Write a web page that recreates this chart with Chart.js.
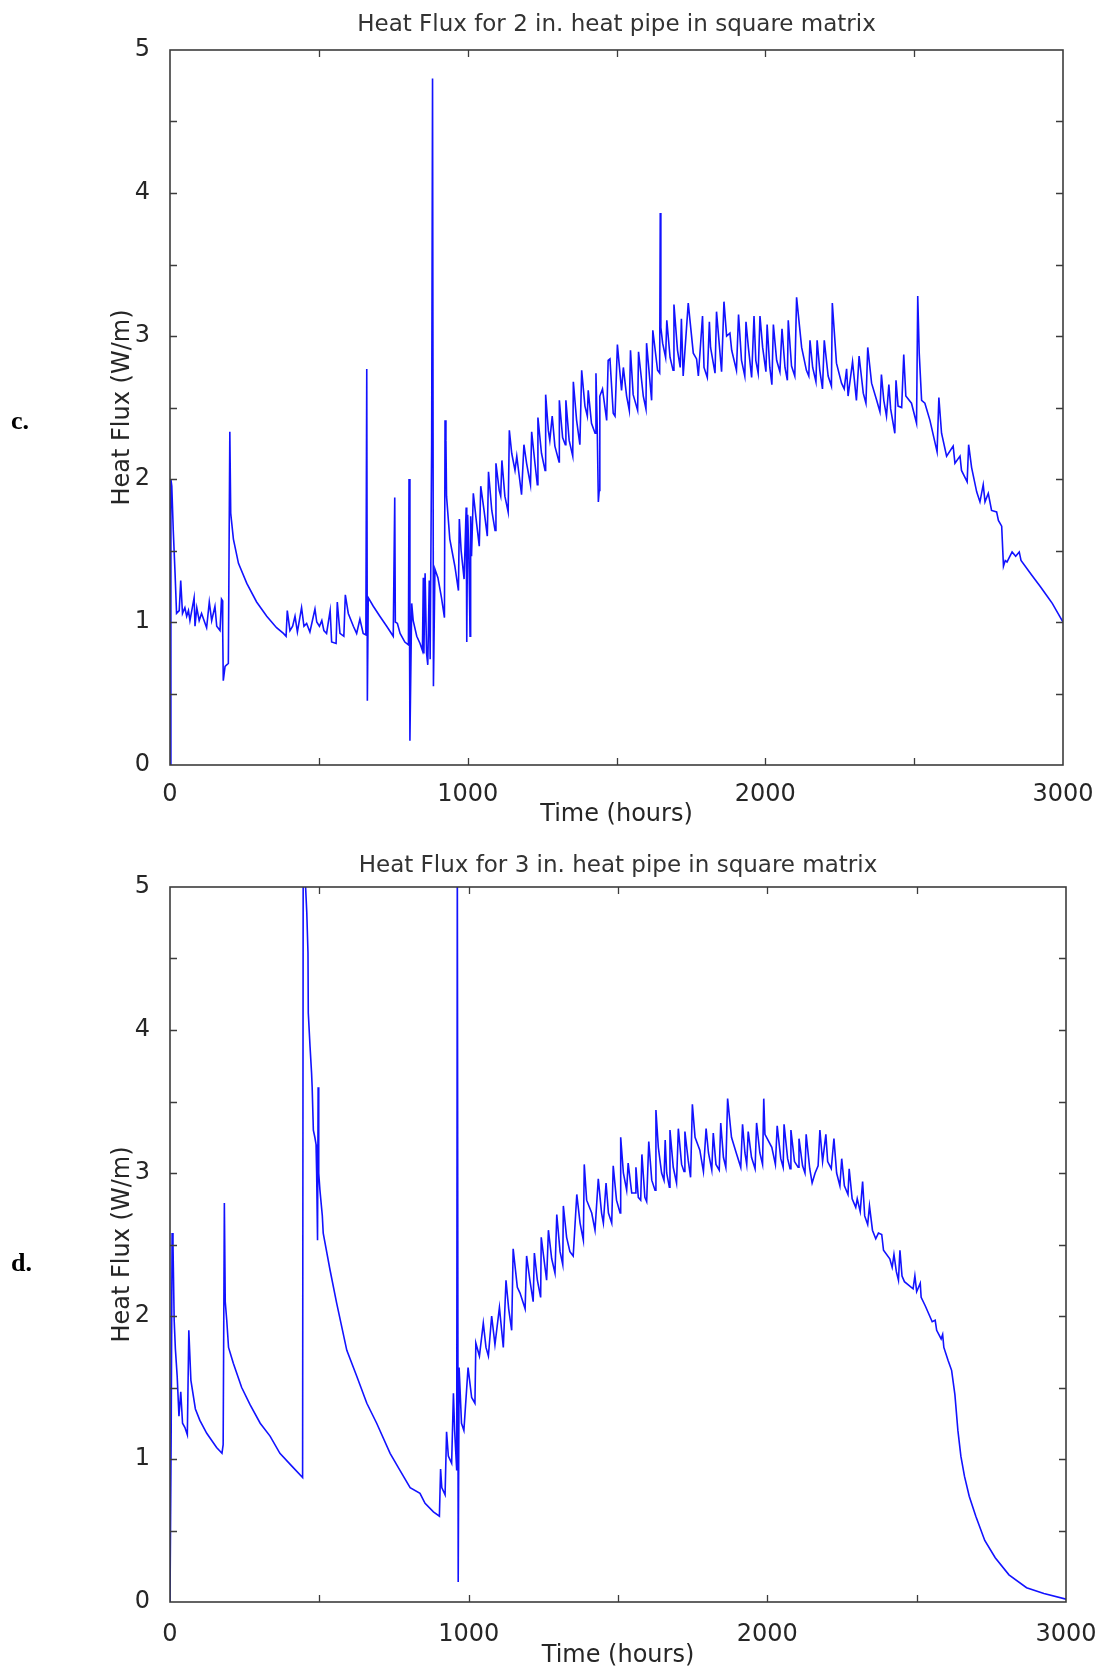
<!DOCTYPE html>
<html>
<head>
<meta charset="utf-8">
<script src="https://cdn.jsdelivr.net/npm/chart.js@4.4.1/dist/chart.umd.min.js"></script>
<style>
  html, body { margin: 0; padding: 0; background: #fff; }
  body { width: 1097px; height: 1671px; position: relative; overflow: hidden; }
  canvas { position: absolute; left: 0; }
  #chartC { top: 0; }
  #chartD { top: 835px; }
  .panel { position: absolute; left: 11px; font: bold 26px "Liberation Serif", serif; color: #000; line-height: 30px; }
</style>
</head>
<body>
<canvas id="chartC" width="1097" height="835"></canvas>
<canvas id="chartD" width="1097" height="836"></canvas>
<div class="panel" style="top:406px">c.</div>
<div class="panel" style="top:1248px">d.</div>
<script>
// panel c: 2 in. heat pipe
const hoursC = [0, 3, 6, 11, 17, 22, 31, 36, 42, 50, 56, 62, 67, 81, 84, 90, 98, 106, 123, 132, 140, 151, 157, 168, 173, 176, 177, 179, 185, 196,
  201, 204, 213, 230, 258, 291, 325, 358, 381, 390, 394, 403, 412, 420, 428, 442, 450, 459, 470, 487, 493, 502, 510, 517, 526, 538, 543, 558, 562, 571,
  584, 589, 599, 616, 627, 638, 649, 658, 661, 663, 666, 683, 705, 728, 750, 755, 757, 764, 773, 789, 801, 803, 806, 812, 817, 829, 840, 848, 851, 853,
  857, 862, 866, 871, 874, 879, 882, 885, 890, 900, 912, 922, 924, 927, 929, 940, 957, 969, 972, 978, 988, 995, 997, 1000, 1004, 1008, 1010, 1013, 1019, 1030,
  1039, 1044, 1055, 1066, 1070, 1081, 1092, 1095, 1106, 1111, 1115, 1125, 1136, 1140, 1148, 1159, 1165, 1181, 1189, 1198, 1211, 1215, 1226, 1234, 1236, 1248, 1260, 1262, 1271, 1276,
  1284, 1293, 1307, 1308, 1319, 1328, 1330, 1341, 1353, 1355, 1366, 1377, 1383, 1394, 1402, 1405, 1416, 1428, 1431, 1435, 1439, 1442, 1444, 1453, 1467, 1472, 1478, 1489, 1495, 1503,
  1517, 1523, 1534, 1543, 1547, 1556, 1571, 1574, 1590, 1599, 1601, 1618, 1622, 1638, 1645, 1647, 1649, 1655, 1665, 1669, 1680, 1690, 1693, 1705, 1714, 1718, 1724, 1741, 1758, 1769,
  1775, 1789, 1794, 1805, 1812, 1816, 1831, 1836, 1853, 1861, 1870, 1881, 1887, 1903, 1910, 1920, 1931, 1935, 1943, 1954, 1962, 1968, 1976, 1982, 1991, 2002, 2006, 2015, 2022, 2027,
  2038, 2049, 2056, 2066, 2074, 2077, 2088, 2099, 2105, 2122, 2138, 2146, 2150, 2159, 2170, 2174, 2183, 2192, 2198, 2211, 2222, 2225, 2239, 2256, 2265, 2273, 2278, 2293, 2306, 2315,
  2329, 2338, 2344, 2357, 2374, 2385, 2390, 2398, 2407, 2415, 2421, 2435, 2439, 2446, 2458, 2465, 2472, 2491, 2508, 2512, 2517, 2525, 2536, 2553, 2577, 2583, 2592, 2609, 2631, 2637,
  2654, 2659, 2678, 2683, 2693, 2710, 2721, 2732, 2738, 2749, 2760, 2777, 2783, 2794, 2800, 2806, 2812, 2829, 2841, 2853, 2859, 2894, 2923, 2947, 2964, 3000];
const fluxC = [0, 2.0, 1.95, 1.64, 1.34, 1.06, 1.08, 1.29, 1.06, 1.1, 1.04, 1.08, 1.01, 1.17, 0.97, 1.1, 1.01, 1.06, 0.96, 1.14, 1.01, 1.11, 0.97, 0.94, 1.16, 1.15, 0.94, 0.59, 0.69, 0.71,
  2.33, 1.76, 1.58, 1.41, 1.27, 1.14, 1.04, 0.96, 0.92, 0.9, 1.08, 0.94, 0.97, 1.04, 0.93, 1.1, 0.97, 0.99, 0.93, 1.09, 1.0, 0.97, 1.01, 0.94, 0.92, 1.08, 0.86, 0.85, 1.14, 0.92,
  0.9, 1.19, 1.06, 0.97, 0.92, 1.02, 0.92, 0.91, 2.77, 0.45, 1.17, 1.11, 1.04, 0.97, 0.9, 1.87, 1.0, 0.99, 0.92, 0.86, 0.84, 2.0, 0.17, 1.13, 1.01, 0.9, 0.85, 0.8, 1.31, 0.78,
  1.34, 0.78, 0.7, 1.29, 0.74, 2.24, 4.8, 0.55, 1.37, 1.31, 1.17, 1.03, 2.41, 2.27, 1.88, 1.58, 1.39, 1.22, 1.72, 1.5, 1.3, 1.8, 0.86, 1.75, 1.5, 0.9, 1.74, 1.46, 1.9, 1.69,
  1.53, 1.95, 1.78, 1.6, 2.05, 1.78, 1.64, 2.11, 1.92, 1.88, 2.13, 1.88, 1.77, 2.34, 2.18, 2.06, 2.16, 1.89, 2.24, 2.11, 1.96, 2.33, 2.11, 1.96, 2.43, 2.18, 2.06, 2.59, 2.34, 2.27,
  2.44, 2.23, 2.12, 2.55, 2.29, 2.24, 2.55, 2.27, 2.16, 2.68, 2.41, 2.24, 2.76, 2.51, 2.44, 2.62, 2.39, 2.32, 2.74, 2.39, 1.84, 1.92, 2.58, 2.63, 2.41, 2.83, 2.84, 2.46, 2.44, 2.94,
  2.62, 2.78, 2.58, 2.48, 2.9, 2.59, 2.48, 2.89, 2.58, 2.49, 2.95, 2.55, 3.04, 2.76, 2.74, 3.86, 3.06, 2.95, 2.85, 3.11, 2.85, 2.76, 3.22, 2.9, 2.78, 3.12, 2.72, 3.23, 2.88, 2.84,
  2.72, 3.14, 2.78, 2.71, 3.1, 2.92, 2.74, 3.17, 2.75, 3.24, 3.0, 3.02, 2.9, 2.76, 3.15, 2.83, 2.72, 3.1, 2.92, 2.71, 3.14, 2.83, 2.74, 3.14, 2.92, 2.75, 3.08, 2.78, 2.66, 3.08,
  2.83, 2.75, 3.05, 2.78, 2.69, 3.11, 2.79, 2.72, 3.27, 2.92, 2.76, 2.72, 2.97, 2.78, 2.68, 2.97, 2.76, 2.63, 2.97, 2.72, 2.65, 3.23, 2.81, 2.67, 2.63, 2.77, 2.58, 2.82, 2.55, 2.86,
  2.6, 2.53, 2.92, 2.67, 2.55, 2.47, 2.73, 2.55, 2.44, 2.66, 2.49, 2.32, 2.69, 2.51, 2.5, 2.87, 2.58, 2.53, 2.39, 3.28, 2.88, 2.55, 2.53, 2.41, 2.19, 2.57, 2.32, 2.16, 2.23, 2.11,
  2.16, 2.06, 1.98, 2.24, 2.08, 1.91, 1.84, 1.96, 1.84, 1.9, 1.78, 1.77, 1.71, 1.67, 1.39, 1.43, 1.42, 1.49, 1.46, 1.49, 1.43, 1.33, 1.25, 1.18, 1.13, 1.0];

// panel d: 3 in. heat pipe
const hoursD = [0, 4, 7, 10, 14, 18, 24, 30, 36, 42, 50, 58, 63, 70, 85, 100, 123, 156, 174, 178, 182, 185, 190, 196, 212, 240, 268, 302, 335, 368,
  408, 444, 446, 452, 454, 458, 462, 463, 469, 474, 476, 480, 485, 489, 491, 494, 496, 498, 502, 510, 513, 536, 558, 592, 625, 659, 692, 737, 770, 804,
  837, 854, 882, 902, 906, 910, 921, 926, 932, 943, 949, 953, 960, 962, 965, 968, 976, 984, 998, 1010, 1021, 1024, 1036, 1049, 1058, 1066, 1077, 1088, 1103, 1116,
  1125, 1134, 1144, 1149, 1163, 1172, 1189, 1194, 1205, 1216, 1220, 1230, 1241, 1243, 1261, 1267, 1278, 1289, 1295, 1306, 1315, 1317, 1328, 1339, 1350, 1362, 1373, 1384, 1387, 1395,
  1412, 1423, 1434, 1445, 1451, 1460, 1468, 1479, 1484, 1495, 1507, 1509, 1518, 1529, 1534, 1546, 1557, 1560, 1568, 1576, 1580, 1590, 1596, 1603, 1613, 1624, 1627, 1635, 1646, 1654,
  1658, 1663, 1672, 1674, 1685, 1696, 1702, 1713, 1721, 1724, 1735, 1743, 1749, 1758, 1774, 1786, 1795, 1803, 1814, 1819, 1828, 1839, 1844, 1853, 1861, 1867, 1880, 1896, 1911, 1917,
  1925, 1931, 1936, 1947, 1959, 1964, 1975, 1984, 1988, 1992, 2015, 2027, 2033, 2045, 2053, 2056, 2068, 2076, 2079, 2091, 2103, 2106, 2118, 2126, 2130, 2142, 2150, 2160, 2170, 2176,
  2185, 2196, 2202, 2214, 2223, 2232, 2243, 2249, 2258, 2270, 2274, 2284, 2296, 2301, 2311, 2319, 2326, 2336, 2342, 2352, 2363, 2372, 2383, 2389, 2410, 2418, 2424, 2432, 2439, 2444,
  2451, 2459, 2488, 2494, 2500, 2512, 2515, 2529, 2552, 2562, 2567, 2582, 2587, 2591, 2605, 2617, 2628, 2638, 2648, 2660, 2676, 2698, 2728, 2763, 2809, 2868, 2926, 3000];
const fluxD = [0, 1.2, 2.58, 2.5, 1.97, 1.77, 1.58, 1.3, 1.47, 1.25, 1.22, 1.17, 1.9, 1.55, 1.35, 1.27, 1.18, 1.08, 1.04, 1.1, 2.79, 2.1, 1.97, 1.78, 1.67, 1.5, 1.38, 1.25, 1.16, 1.04,
  0.95, 0.87, 5.3, 5.3, 5.0, 4.82, 4.54, 4.12, 3.88, 3.7, 3.6, 3.3, 3.25, 3.2, 3.0, 2.53, 3.6, 3.0, 2.88, 2.7, 2.58, 2.32, 2.09, 1.76, 1.58, 1.39, 1.25, 1.04, 0.92, 0.8,
  0.76, 0.69, 0.63, 0.6, 0.93, 0.8, 0.75, 1.19, 1.02, 0.97, 1.46, 1.2, 0.92, 5.3, 0.14, 1.64, 1.25, 1.2, 1.64, 1.43, 1.39, 1.81, 1.72, 1.95, 1.78, 1.72, 2.0, 1.8, 2.06, 1.78,
  2.25, 2.05, 1.9, 2.47, 2.2, 2.16, 2.05, 2.42, 2.25, 2.1, 2.44, 2.25, 2.13, 2.55, 2.25, 2.6, 2.4, 2.3, 2.71, 2.45, 2.36, 2.77, 2.55, 2.45, 2.42, 2.85, 2.65, 2.53, 3.06, 2.81,
  2.72, 2.6, 2.96, 2.72, 2.65, 2.93, 2.72, 2.65, 3.05, 2.81, 2.72, 3.25, 3.0, 2.88, 3.07, 2.86, 2.86, 3.04, 2.83, 2.81, 3.13, 2.83, 2.8, 3.22, 2.95, 2.88, 3.44, 3.18, 3.0, 2.95,
  3.23, 3.0, 2.9, 3.3, 3.04, 2.93, 3.31, 3.06, 3.01, 3.29, 3.09, 2.97, 3.48, 3.25, 3.16, 3.01, 3.31, 3.14, 3.02, 3.28, 3.06, 3.02, 3.35, 3.11, 3.04, 3.52, 3.25, 3.14, 3.04, 3.34,
  3.14, 3.06, 3.29, 3.11, 3.03, 3.35, 3.14, 3.06, 3.52, 3.27, 3.18, 3.06, 3.33, 3.1, 3.04, 3.34, 3.1, 3.03, 3.3, 3.08, 3.04, 3.24, 3.05, 3.0, 3.27, 3.03, 2.93, 3.0, 3.05, 3.3,
  3.08, 3.27, 3.08, 3.03, 3.24, 3.0, 2.91, 3.1, 2.91, 2.85, 3.03, 2.82, 2.76, 2.82, 2.73, 2.94, 2.7, 2.64, 2.77, 2.6, 2.54, 2.58, 2.57, 2.46, 2.4, 2.34, 2.43, 2.31, 2.25, 2.46,
  2.28, 2.24, 2.19, 2.28, 2.17, 2.23, 2.13, 2.07, 1.96, 1.97, 1.9, 1.84, 1.87, 1.78, 1.69, 1.62, 1.45, 1.2, 1.02, 0.88, 0.74, 0.6, 0.43, 0.31, 0.19, 0.1, 0.06, 0.02];

const xMajor = 1000;
const tickFont = { family: 'DejaVu Sans', size: 24 };
const textColor = '#262626';

// matlab style box with inward ticks
const framePlugin = {
  id: 'frame',
  afterDatasetsDraw(chart) {
    const { ctx, chartArea: a, scales: { x, y } } = chart;
    const len = 7;
    ctx.save();
    ctx.strokeStyle = '#3c3c3c';
    ctx.lineWidth = 1.6;
    ctx.strokeRect(a.left, a.top, a.right - a.left, a.bottom - a.top);
    ctx.lineWidth = 1.3;
    ctx.beginPath();
    x.ticks.forEach(t => {
      if (t.value <= x.min || t.value >= x.max) return;
      const px = Math.round(x.getPixelForValue(t.value)) + 0.5;
      ctx.moveTo(px, a.bottom); ctx.lineTo(px, a.bottom - len);
      ctx.moveTo(px, a.top); ctx.lineTo(px, a.top + len);
    });
    y.ticks.forEach(t => {
      if (t.value <= y.min || t.value >= y.max) return;
      const py = Math.round(y.getPixelForValue(t.value)) + 0.5;
      ctx.moveTo(a.left, py); ctx.lineTo(a.left + len, py);
      ctx.moveTo(a.right, py); ctx.lineTo(a.right - len, py);
    });
    ctx.stroke();
    ctx.restore();
  }
};

function makeChart(id, hours, flux, titleText, o) {
  const points = hours.map((h, i) => ({ x: h, y: flux[i] }));
  return new Chart(document.getElementById(id), {
    type: 'line',
    data: {
      datasets: [{
        data: points,
        borderColor: '#1212ff',
        borderWidth: 1.6,
        pointRadius: 0,
        tension: 0,
        fill: false
      }]
    },
    options: {
      responsive: false,
      animation: false,
      devicePixelRatio: 1,
      layout: { padding: { left: 0, right: o.right, top: 0, bottom: 0 } },
      plugins: {
        legend: { display: false },
        tooltip: { enabled: false },
        title: {
          display: true,
          text: titleText,
          fullSize: false,
          color: '#333',
          font: { family: 'DejaVu Sans', size: 23, weight: 'normal' },
          padding: { top: o.titleTop, bottom: o.titleBottom }
        }
      },
      scales: {
        x: {
          type: 'linear',
          min: 0,
          max: 3000,
          grid: { display: false },
          border: { display: false },
          ticks: {
            stepSize: 500,
            autoSkip: false,
            maxRotation: 0,
            padding: o.xPad,
            color: textColor,
            font: tickFont,
            callback: v => (v % xMajor === 0 ? v : '')
          },
          title: {
            display: true,
            text: 'Time (hours)',
            color: textColor,
            font: tickFont,
            padding: { top: 0, bottom: o.xTitlePad }
          },
          afterFit: s => {
            s.height = o.xHeight;
            s.paddingLeft = 0;
            s.paddingRight = 0;
          }
        },
        y: {
          min: 0,
          max: 5,
          grid: { display: false },
          border: { display: false },
          ticks: {
            stepSize: 0.5,
            autoSkip: false,
            padding: 12,
            color: textColor,
            font: tickFont,
            callback: v => (Number.isInteger(v) ? v : '')
          },
          title: {
            display: true,
            text: 'Heat Flux (W/m)',
            color: textColor,
            font: tickFont,
            padding: { top: 108, bottom: 0 }
          },
          afterFit: s => {
            s.width = 170;
            s.paddingTop = 0;
            s.paddingBottom = 0;
          }
        }
      }
    },
    plugins: [framePlugin]
  });
}

makeChart('chartC', hoursC, fluxC, 'Heat Flux for 2 in. heat pipe in square matrix',
  { right: 34, titleTop: 11, titleBottom: 11.4, xHeight: 70, xPad: 7, xTitlePad: 6 });
makeChart('chartD', hoursD, fluxD, 'Heat Flux for 3 in. heat pipe in square matrix',
  { right: 31, titleTop: 17.7, titleBottom: 6.7, xHeight: 69, xPad: 10, xTitlePad: 1 });
</script>
</body>
</html>
